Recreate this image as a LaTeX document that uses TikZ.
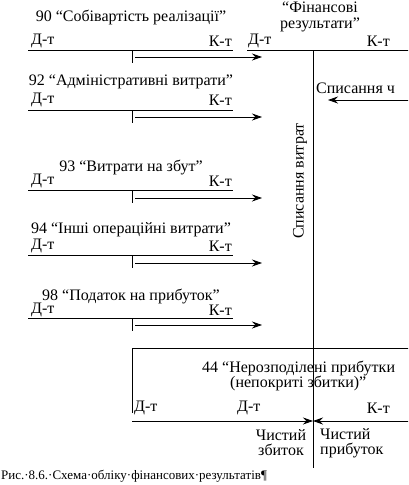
\documentclass[tikz,border=0pt]{standalone}
\usepackage{fontspec}
\setmainfont{Liberation Serif}
\usetikzlibrary{arrows.meta}

\begin{document}
\begin{tikzpicture}[x=1pt,y=-1pt,
  every node/.style={inner sep=0pt,font=\fontsize{16}{15}\selectfont},
  line/.style={line width=0.8pt},
  flow/.style={line width=0.8pt,-{Stealth[length=10pt,width=7pt]}}]
\useasboundingbox (0,0) rectangle (408,485);
\clip (0,0) rectangle (408,485);

% 90
\node (t90) at (131,17) {90 “Собівартість реалізації”};
\node[anchor=west] (d90) at (31,41) {Д-т};
\node[anchor=east] (k90) at (232,41) {К-т};
\coordinate (l90) at (28,50); \coordinate (r90) at (233,50); \coordinate (m90) at (132,50);
\coordinate (s90) at (135,57); \coordinate (e90) at (262,57);
\draw[line] (l90) -- (r90);
\draw[line] (m90) -- ++(0,13);
\draw[flow] (s90) -- (e90);

% 92
\node (t92) at (131,82) {92 “Адміністративні витрати”};
\node[anchor=west] (d92) at (31,100) {Д-т};
\node[anchor=east] (k92) at (232,100) {К-т};
\coordinate (l92) at (28,110); \coordinate (r92) at (233,110); \coordinate (m92) at (132,110);
\coordinate (s92) at (135,117); \coordinate (e92) at (262,117);
\draw[line] (l92) -- (r92);
\draw[line] (m92) -- ++(0,13);
\draw[flow] (s92) -- (e92);

% 93
\node (t93) at (131,167) {93 “Витрати на збут”};
\node[anchor=west] (d93) at (31,181) {Д-т};
\node[anchor=east] (k93) at (232,181) {К-т};
\coordinate (l93) at (28,190); \coordinate (r93) at (233,190); \coordinate (m93) at (132,190);
\coordinate (s93) at (135,198); \coordinate (e93) at (262,198);
\draw[line] (l93) -- (r93);
\draw[line] (m93) -- ++(0,13);
\draw[flow] (s93) -- (e93);

% 94
\node (t94) at (131,230) {94 “Інші операційні витрати”};
\node[anchor=west] (d94) at (31,246) {Д-т};
\node[anchor=east] (k94) at (232,246) {К-т};
\coordinate (l94) at (28,255); \coordinate (r94) at (233,255); \coordinate (m94) at (132,255);
\coordinate (s94) at (135,263); \coordinate (e94) at (262,263);
\draw[line] (l94) -- (r94);
\draw[line] (m94) -- ++(0,13);
\draw[flow] (s94) -- (e94);

% 98
\node (t98) at (131,296) {98 “Податок на прибуток”};
\node[anchor=west] (d98) at (31,310) {Д-т};
\node[anchor=east] (k98) at (232,310) {К-т};
\coordinate (l98) at (28,318); \coordinate (r98) at (233,318); \coordinate (m98) at (132,318);
\coordinate (s98) at (135,325); \coordinate (e98) at (262,325);
\draw[line] (l98) -- (r98);
\draw[line] (m98) -- ++(0,13);
\draw[flow] (s98) -- (e98);

% 79
\node[align=center] (fr) at (320,17) {“Фінансові\\[1pt]результати”};
\node[anchor=west] (dfr) at (248,41) {Д-т};
\node[anchor=east] (kfr) at (390,41) {К-т};
\coordinate (lfr) at (247,50); \coordinate (rfr) at (410,50);
\coordinate (top) at (313,50); \coordinate (bot) at (313,468);
\draw[line] (lfr) -- (rfr);
\draw[line] (top) -- (bot);
\node[anchor=west] (spch) at (316,88) {Списання ч};
\coordinate (sin) at (410,100); \coordinate (sout) at (328,100);
\draw[flow] (sin) -- (sout);
\node[rotate=90] (spv) at (300,181) {Списання витрат};

% 44
\coordinate (bl) at (132,413); \coordinate (tl) at (132,348); \coordinate (tr) at (410,348);
\draw[line] (bl) -- (tl) -- (tr);
\node[anchor=west] (t44) at (202,368) {44 “Нерозподілені прибутки};
\node[anchor=west] (t44b) at (230,383) {(непокриті збитки)”};
\node[anchor=west] (d44a) at (134,408) {Д-т};
\node[anchor=west] (d44) at (237,408) {Д-т};
\node[anchor=east] (k44) at (390,408) {К-т};
\coordinate (l44) at (132,421); \coordinate (r44) at (410,421); \coordinate (mid) at (313,421);
\draw[flow] (l44) -- (mid);
\draw[flow] (r44) -- (mid);
\node[align=center] (loss) at (281,443) {Чистий\\збиток};
\node[align=left,anchor=west] (prof) at (320,443) {Чистий\\прибуток};

\node[anchor=west,font=\fontsize{13}{14}\selectfont] (cap) at (1,476) {Рис.·8.6.·Схема·обліку·фінансових·результатів¶};
\end{tikzpicture}
\end{document}
